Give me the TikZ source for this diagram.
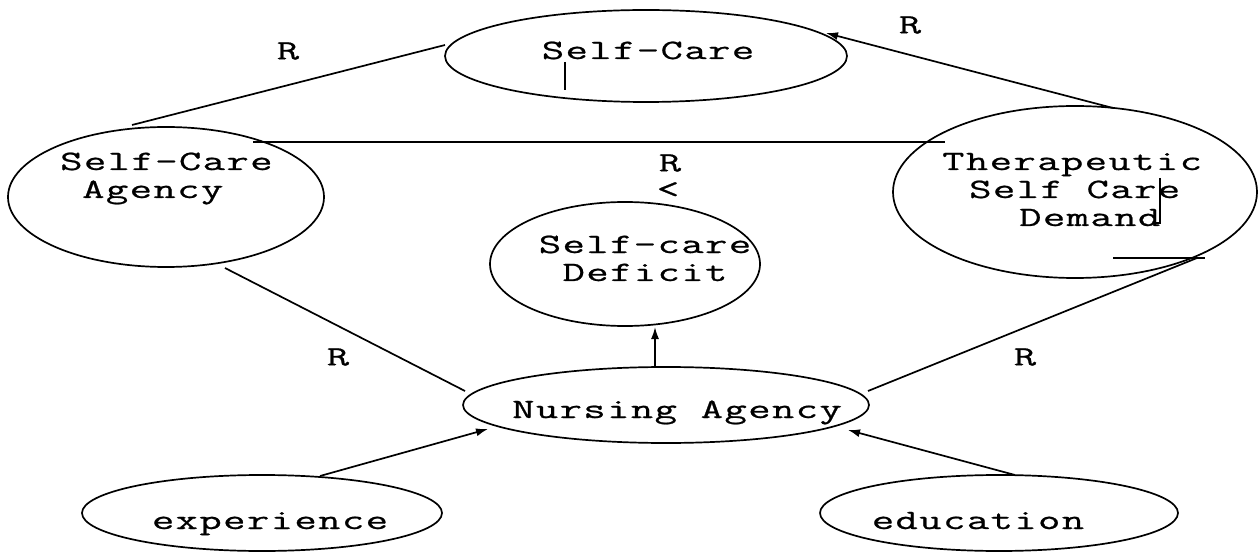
\documentclass[tikz,border=0pt]{standalone}
\usepackage{fontspec}
\usetikzlibrary{arrows.meta,shapes.geometric}
\newfontfamily\diagfont[FakeStretch=1.55,FakeBold=0.8,LetterSpace=5]{Latin Modern Mono}
\begin{document}
\begin{tikzpicture}[x=1pt,y=-1pt,
  bubble/.style={draw, ellipse, line width=1.7pt, inner sep=0pt, outer sep=0pt},
  caption/.style={font=\diagfont\fontsize{28}{28}\selectfont, inner sep=0pt, anchor=base},
  rel/.style={font=\diagfont\fontsize{28}{28}\selectfont, inner sep=0pt},
  link/.style={line width=1.7pt},
  tip/.style={-{Latex[length=12pt,width=8pt]}}
]
\useasboundingbox (0,0) rectangle (1258,553);

% concept bubbles
\node[bubble, minimum width=402pt, minimum height=92pt]  (sc)   at (646,56)  {};
\node[bubble, minimum width=316pt, minimum height=140pt] (sca)  at (166,197) {};
\node[bubble, minimum width=364pt, minimum height=172pt] (tscd) at (1075,192) {};
\node[bubble, minimum width=270pt, minimum height=124pt] (scd)  at (625,264) {};
\node[bubble, minimum width=406pt, minimum height=76pt]  (na)   at (666,405) {};
\node[bubble, minimum width=360pt, minimum height=76pt]  (exp)  at (262,513) {};
\node[bubble, minimum width=358pt, minimum height=76pt]  (edu)  at (999,513) {};

% bubble captions (a multi-line caption sits on its last baseline)
\node[caption] (sctext) at (648,59) {Self-Care};
\node[caption, anchor=base west, align=left] (scatext) at (60,198)
  {Self-Care\\\hspace*{22pt}Agency};
\node[caption, anchor=base west, align=left] (tscdtext) at (942,226)
  {Therapeutic\\\hspace*{27pt}Self Care\\\hspace*{77pt}Demand};
\node[caption, align=center] (scdtext) at (645,281) {Self-care\\Deficit};
\node[caption] (natext)  at (677,418) {Nursing Agency};
\node[caption] (exptext) at (270,529) {experience};
\node[caption] (edutext) at (978,529) {education};

% pen marks inside the bubbles
\draw[link] ([shift={(-81,6)}]sc.center) -- ([shift={(-81,34)}]sc.center);
\draw[link] ([shift={(85,-14)}]tscd.center) -- ([shift={(85,31)}]tscd.center)
  -- ([shift={(80,31)}]tscd.center);
\draw[link] ([shift={(38,66)}]tscd.center) -- ([shift={(130,66)}]tscd.center);

% relations
\draw[link] ([shift={(-34,-72)}]sca.center) -- ([shift={(-201,-11)}]sc.center);
\draw[link, tip] ([shift={(38,-84)}]tscd.center) -- ([shift={(180,-23)}]sc.center);
\draw[link] ([shift={(87,-55)}]sca.center) -- ([shift={(-130,-50)}]tscd.center);
\draw[link] ([shift={(59,71)}]sca.center) -- ([shift={(-201,-14)}]na.center);
\draw[link] ([shift={(122,66)}]tscd.center) -- ([shift={(202,-14)}]na.center);
\draw[link, tip] ([shift={(-11,-38)}]na.center) -- ([shift={(30,63)}]scd.center);
\draw[link, tip] ([shift={(58,-37)}]exp.center) -- ([shift={(-178,24)}]na.center);
\draw[link, tip] ([shift={(16,-38)}]edu.center) -- ([shift={(182,25)}]na.center);

% relation labels
\node[rel] (r1) at (288,51)  {R};
\node[rel] (r2) at (910,25)  {R};
\node[rel] (r3) at (670,163) {R};
\node[rel] (lt) at (668,190) {<};
\node[rel] (r4) at (338,357) {R};
\node[rel] (r5) at (1025,357) {R};
\end{tikzpicture}
\end{document}
